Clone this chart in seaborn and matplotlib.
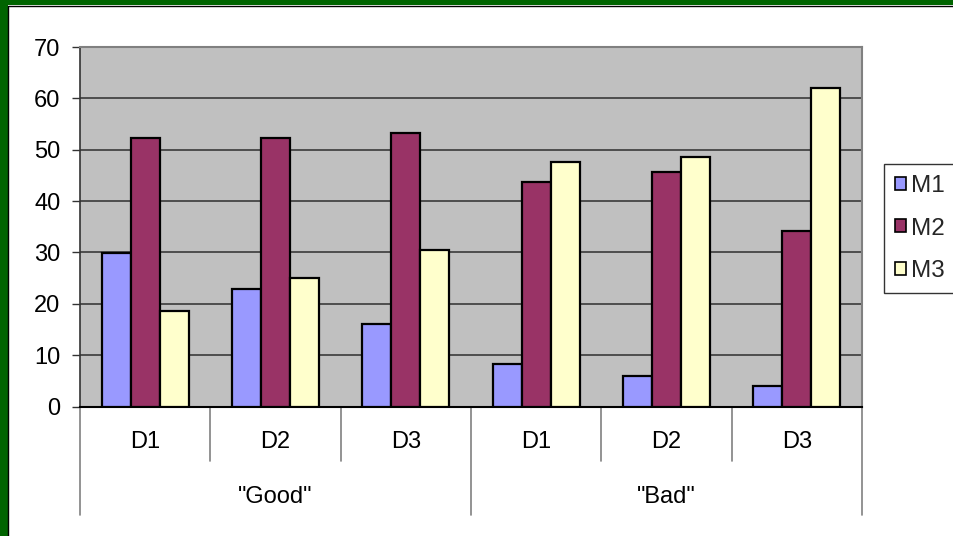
import matplotlib
matplotlib.use("Agg")
import matplotlib.pyplot as plt
import matplotlib.patches as mpatches
import matplotlib.transforms as mtransforms
import pandas as pd
import seaborn as sns

# ---- data ----
groups = ['"Good"', '"Bad"']
subcats = ["D1", "D2", "D3"]
series = ["M1", "M2", "M3"]
m1 = [29.8, 22.8, 16.1, 8.3, 5.9, 4.0]
m2 = [52.3, 52.3, 53.2, 43.8, 45.7, 34.1]
m3 = [18.5, 25.1, 30.5, 47.7, 48.5, 62.1]
yticks = [0, 10, 20, 30, 40, 50, 60, 70]

colors = {"M1": "#9999FF", "M2": "#993366", "M3": "#FFFFCC"}

keys = [f"{g} {s}" for g in groups for s in subcats]
rows = []
for name, vals in zip(series, [m1, m2, m3]):
    for k, v in zip(keys, vals):
        rows.append({"cat": k, "series": name, "value": v})
df = pd.DataFrame(rows)

sns.set_theme(style="white")
plt.rcParams["font.family"] = ["Liberation Sans", "DejaVu Sans"]
FS = 17

W, H = 954, 536
fig = plt.figure(figsize=(W / 100, H / 100), dpi=100)
fig.patch.set_facecolor("white")

L, R, T, B = 80, 862, 47, 406.5
ax = fig.add_axes([L / W, 1 - B / H, (R - L) / W, (B - T) / H])
ax.set_facecolor("#C0C0C0")

sns.barplot(data=df, x="cat", y="value", hue="series", order=keys,
            hue_order=series, palette=colors, saturation=1, width=0.667,
            gap=0, edgecolor="black", linewidth=1.6, ax=ax, legend=False,
            zorder=3)

ax.set_xlim(-0.5, len(keys) - 0.5)
ax.set_ylim(0, 70)
ax.set_yticks(yticks)
ax.set_yticklabels([str(t) for t in yticks], fontsize=FS, color="black")
ax.yaxis.grid(True, color="#3a3a3a", linewidth=1.2, zorder=0)
ax.set_axisbelow(True)
ax.tick_params(axis="y", left=True, length=6, width=1, color="#333333", pad=8)
ax.set_xlabel("")
ax.set_ylabel("")
ax.set_xticks([])

for side in ["top", "right"]:
    ax.spines[side].set_color("#808080")
    ax.spines[side].set_linewidth(1.5)
ax.spines["left"].set_color("#333333")
ax.spines["bottom"].set_color("black")
ax.spines["left"].set_linewidth(1.2)
ax.spines["bottom"].set_linewidth(1.5)

# two-level category axis
trans = mtransforms.blended_transform_factory(ax.transData, ax.transAxes)
ah = B - T
short_y = (B - 461) / ah
long_y = (B - 515) / ah
for i in range(len(keys) + 1):
    x = i - 0.5
    y_end = long_y if i % 3 == 0 else short_y
    ax.plot([x, x], [0, y_end], transform=trans, color="#808080",
            linewidth=1.2, clip_on=False, zorder=1)

for i, k in enumerate(keys):
    ax.text(i, (B - 442) / ah, subcats[i % 3], transform=trans, ha="center",
            va="center", fontsize=FS, color="black")

for gi, g in enumerate(groups):
    xc = gi * 3 + 1
    ax.text(xc, (B - 497) / ah, g, transform=trans, ha="center", va="center",
            fontsize=FS, color="black")

# legend
handles = [mpatches.Patch(facecolor=colors[s], edgecolor="black",
                          linewidth=1.2, label=s) for s in series]
leg = fig.legend(handles=handles, loc="upper left",
                 bbox_to_anchor=(884 / W, 1 - 164 / H),
                 bbox_transform=fig.transFigure, fontsize=FS + 0.5,
                 frameon=True, fancybox=False, handlelength=0.45,
                 handleheight=0.45, handletextpad=0.2, labelspacing=0.85,
                 borderpad=0.45, borderaxespad=0)
leg.get_frame().set_edgecolor("black")
leg.get_frame().set_linewidth(1.0)

# green frame around the chart
fig.add_artist(mpatches.Rectangle((0, 0), 8 / W, 1, transform=fig.transFigure,
                                  facecolor="#006400", edgecolor="none", zorder=10))
fig.add_artist(mpatches.Rectangle((0, 1 - 5 / H), 1, 5 / H, transform=fig.transFigure,
                                  facecolor="#006400", edgecolor="none", zorder=10))
fig.add_artist(plt.Line2D([8.5 / W, 8.5 / W, 1], [0, 1 - 5.5 / H, 1 - 5.5 / H],
                          transform=fig.transFigure, color="black", linewidth=1,
                          zorder=11))

fig.savefig("out.png", dpi=100)
